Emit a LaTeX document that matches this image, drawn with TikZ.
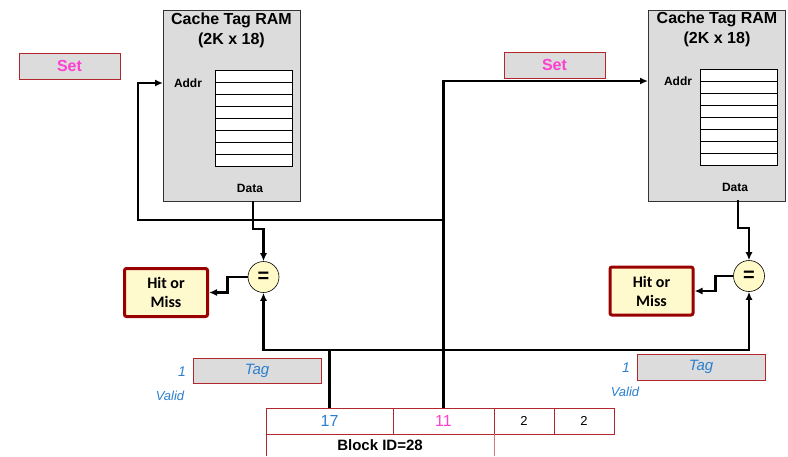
\documentclass[tikz,border=0pt]{standalone}
\usepackage{fontspec}
\setmainfont{Liberation Sans}
\newfontfamily\hitfont{Carlito}
\usetikzlibrary{arrows.meta, positioning, calc}
\definecolor{setpink}{HTML}{FF3FCF}
\definecolor{tagblue}{HTML}{2A7FD0}
\definecolor{boxred}{HTML}{B3262B}
\definecolor{hitred}{HTML}{990000}
\definecolor{hitfill}{HTML}{FFFACD}
\definecolor{ramgray}{HTML}{DCDCDC}
\definecolor{eqfill}{HTML}{FFFAC8}

\begin{document}
\begin{tikzpicture}[x=1pt, y=-1pt,
    ram/.style={draw=black!80, fill=ramgray, line width=0.8pt, minimum width=137pt, minimum height=191pt, anchor=north west},
    ramtitle/.style={font=\fontsize{16}{20}\selectfont\bfseries, align=center, inner sep=0pt},
    port/.style={font=\fontsize{12}{14}\selectfont\bfseries, inner sep=0pt},
    tagtable/.style={draw, fill=white, line width=0.6pt, minimum width=77pt, minimum height=96pt, anchor=north west},
    field/.style={draw=boxred, fill=ramgray, line width=0.6pt, minimum height=26pt, inner sep=0pt},
    addrfield/.style={draw=boxred, fill=white, line width=0.6pt, minimum height=26pt, inner sep=0pt, outer sep=0pt, font=\fontsize{16}{18}\selectfont},
    cmp/.style={circle, draw, fill=eqfill, line width=0.6pt, minimum size=31pt, inner sep=0pt, font=\fontsize{20}{20}\selectfont\bfseries},
    hitbox/.style={draw=hitred, fill=hitfill, line width=3pt, rounded corners=2pt, minimum width=83pt, minimum height=48pt, align=center, font=\hitfont\fontsize{16}{19}\selectfont\bfseries},
    wire/.style={line width=2.8pt},
    arrow/.style={wire, -{Latex[length=8pt,width=7pt]}},
    note/.style={text=tagblue, font=\fontsize{14}{16}\selectfont\itshape, inner sep=0pt}
]
\useasboundingbox (0,0) rectangle (788,456);

% Left tag RAM
\node[ram] (ramL) at (163,10) {};
\node[ramtitle] (titleL) at (231.5,30) {Cache Tag RAM\\(2K x 18)};
\node[port] (addrL) at (188,83) {Addr};
\node[tagtable] (tabL) at (215,70) {};
\foreach \r in {1,...,7}
  \draw[line width=0.6pt] ($(tabL.north west)+(0,12*\r)$) -- ($(tabL.north east)+(0,12*\r)$);
\node[port] (dataL) at (250,188) {Data};
\coordinate (doutL) at (253,201);

% Right tag RAM
\node[ram] (ramR) at (648,10) {};
\node[ramtitle] (titleR) at (717,29) {Cache Tag RAM\\(2K x 18)};
\node[port] (addrR) at (678,81) {Addr};
\node[tagtable] (tabR) at (700,69) {};
\foreach \r in {1,...,7}
  \draw[line width=0.6pt] ($(tabR.north west)+(0,12*\r)$) -- ($(tabR.north east)+(0,12*\r)$);
\node[port] (dataR) at (735,187) {Data};
\coordinate (doutR) at (738,200);

% Set labels
\node[field, minimum width=101pt, text=setpink, font=\fontsize{16}{18}\selectfont\bfseries] (setL) at (69.5,66) {Set};
\node[field, minimum width=101pt, text=setpink, font=\fontsize{16}{18}\selectfont\bfseries] (setR) at (554.5,65) {Set};

% Comparators and results
\node[cmp] (eqL) at (263.5,277) {=};
\node[cmp] (eqR) at (749,276) {=};
\node[hitbox] (hitL) at (166,292.5) {Hit or\\Miss};
\node[hitbox] (hitR) at (651.5,291) {Hit or\\Miss};

% Stored tags
\node[field, minimum width=128pt, minimum height=25pt, text=tagblue, font=\fontsize{15}{18}\selectfont\itshape] (tagL) at (257,370.5) {Tag};
\node[field, minimum width=128pt, text=tagblue, font=\fontsize{15}{18}\selectfont\itshape] (tagR) at (701,367) {Tag};
\node[note] (bitL) at (182,372) {1};
\node[note, font=\fontsize{13}{15}\selectfont\itshape] (validL) at (170,396) {Valid};
\node[note] (bitR) at (626,368) {1};
\node[note, font=\fontsize{13}{15}\selectfont\itshape] (validR) at (625,392) {Valid};

% Address fields
\node[addrfield, minimum width=127pt, text=tagblue, anchor=north west] (f17) at (266,408) {17};
\node[addrfield, minimum width=101pt, text=setpink, right=0pt of f17] (f11) {11};
\node[addrfield, minimum width=60pt, font=\fontsize{13}{15}\selectfont, right=0pt of f11] (offA) {2};
\node[addrfield, minimum width=60pt, font=\fontsize{13}{15}\selectfont, right=0pt of offA] (offB) {2};
\node[font=\fontsize{15}{18}\selectfont\bfseries, anchor=north, inner sep=0pt, minimum height=22pt] (blk)
  at ($(f17.south west)!0.5!(f11.south east)$) {Block ID=28};
\draw[boxred, line width=0.6pt] (f17.south west) -- (f17.south west |- blk.south);
\draw[boxred!60, line width=0.6pt] (f11.south east) -- (f11.south east |- blk.south);

% Set index to both RAMs
\coordinate (tapL) at (443.5,220);
\coordinate (bendL) at (138,220);
\draw[arrow] (f11.north) |- (ramR.west |- addrR);
\draw[arrow] (tapL) -- (bendL) |- (ramL.west |- addrL);

% RAM data to comparators
\draw[arrow] (doutL) -- ++(0,28) -| (eqL.north);
\draw[arrow] (doutR) -- ++(0,28) -| (eqR.north);

% Tag field to comparators
\draw[arrow] (f17.north) -- ++(0,-58) coordinate (tagbus) -| (eqL.south);
\draw[arrow] (tagbus) -| (eqR.south);

% Comparator outputs
\draw[arrow] (eqL.west) -- ++(-20,0) |- (hitL.east);
\draw[arrow] (eqR.west) -- ++(-18,0) |- (hitR.east);

\end{tikzpicture}
\end{document}
